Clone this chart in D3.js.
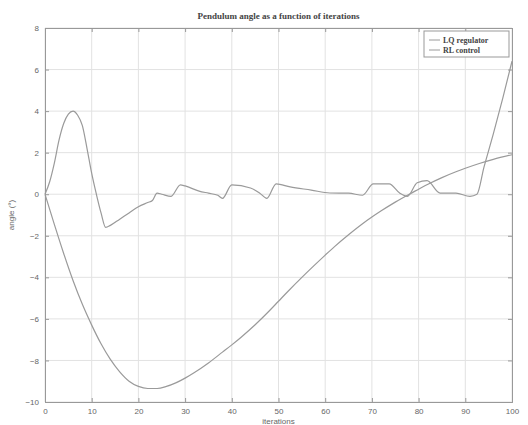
<!DOCTYPE html>
<html><head><meta charset="utf-8">
<script src="https://cdn.jsdelivr.net/npm/d3@7/dist/d3.min.js"></script>
<style>body{margin:0;background:#fff}svg{display:block}</style>
</head><body>
<script>
const title = "Pendulum angle as a function of iterations";
const xLabel = "iterations";
const yLabel = "angle (°)";
const seriesNames = ["LQ regulator", "RL control"];
const xTicks = [0,10,20,30,40,50,60,70,80,90,100];
const yTicks = [-10,-8,-6,-4,-2,0,2,4,6,8];

const lqX = [0,2,4,6,8,10,12,14,16,18,20,22,24,26,28,30,32,35,38,40,42,45,48,50,52,55,58,60,62,65,68,70,72,75,78,80,82,85,88,90,93,96,100];
const lqY = [0,-1.45,-2.85,-4.15,-5.3,-6.3,-7.2,-7.95,-8.55,-9.0,-9.25,-9.35,-9.35,-9.25,-9.08,-8.85,-8.58,-8.12,-7.6,-7.25,-6.88,-6.28,-5.62,-5.15,-4.68,-4.0,-3.35,-2.93,-2.52,-1.95,-1.42,-1.1,-0.8,-0.38,0.0,0.24,0.48,0.8,1.08,1.25,1.48,1.68,1.9];

const rlX = [0,1,2,3,4,5,6,7,8,9,10,11,12,13,14,16,18,20,22,23,24,25,27,29,30,33,35,37,38,40,44,46,47.5,49.5,52.5,57,61,65,68,70.3,73.7,76,77.6,79.7,81.8,84.6,88,91,92.5,94,96,98,100];
const rlY = [0,0.6,1.5,2.6,3.4,3.85,4.0,3.8,3.3,2.2,1.0,0.0,-0.9,-1.6,-1.5,-1.2,-0.9,-0.6,-0.4,-0.3,0.05,0.0,-0.1,0.45,0.4,0.15,0.05,-0.05,-0.2,0.45,0.3,0.05,-0.2,0.5,0.35,0.2,0.06,0.05,-0.05,0.5,0.5,0.05,-0.1,0.55,0.65,0.05,0.05,-0.1,0,1.3,2.9,4.6,6.4];

const W = 528, H = 425;
const m = {l:45, r:16, t:28, b:23};
const svg = d3.select("body").append("svg").attr("width", W).attr("height", H);

const x = d3.scaleLinear().domain([0,100]).range([m.l, W - m.r]);
const y = d3.scaleLinear().domain([-10,8]).range([H - m.b, m.t]);

// grid
const g = svg.append("g");
g.selectAll(".vg").data(xTicks).join("line")
  .attr("x1", d=>x(d)).attr("x2", d=>x(d)).attr("y1", y(8)).attr("y2", y(-10))
  .attr("stroke", "#e2e2e2").attr("stroke-width", 1);
g.selectAll(".hg").data(yTicks).join("line")
  .attr("y1", d=>y(d)).attr("y2", d=>y(d)).attr("x1", x(0)).attr("x2", x(100))
  .attr("stroke", "#e2e2e2").attr("stroke-width", 1);

// axes
const tickFont = g2 => g2.selectAll("text").attr("font-family","Liberation Sans, Arial, sans-serif").attr("font-size", 8).attr("fill", "#666");
const xa = svg.append("g").attr("transform", `translate(0,${y(-10)})`)
  .call(d3.axisBottom(x).tickValues(xTicks).tickSize(-4).tickPadding(6));
const ya = svg.append("g").attr("transform", `translate(${x(0)},0)`)
  .call(d3.axisLeft(y).tickValues(yTicks).tickSize(-4).tickPadding(6).tickFormat(d3.format("d")));
const xt = svg.append("g").attr("transform", `translate(0,${y(8)})`)
  .call(d3.axisTop(x).tickValues(xTicks).tickSize(-4).tickFormat(""));
const yr = svg.append("g").attr("transform", `translate(${x(100)},0)`)
  .call(d3.axisRight(y).tickValues(yTicks).tickSize(-4).tickFormat(""));
[xa, ya, xt, yr].forEach(a => {
  a.select(".domain").attr("stroke", "#999");
  a.selectAll(".tick line").attr("stroke", "#999");
  tickFont(a);
});

// lines
const lqData = lqX.map((v,i)=>[v, lqY[i]]);
const rlData = rlX.map((v,i)=>[v, rlY[i]]);
const lineColors = ["#9a9a9a", "#9a9a9a"];
svg.append("path").datum(lqData).attr("d", d3.line().x(d=>x(d[0])).y(d=>y(d[1])).curve(d3.curveMonotoneX))
  .attr("fill","none").attr("stroke", lineColors[0]).attr("stroke-width", 1.2);
svg.append("path").datum(rlData).attr("d", d3.line().x(d=>x(d[0])).y(d=>y(d[1])).curve(d3.curveMonotoneX))
  .attr("fill","none").attr("stroke", lineColors[1]).attr("stroke-width", 1.2);

// title & labels
svg.append("text").attr("x", (x(0)+x(100))/2).attr("y", 19).attr("text-anchor","middle")
  .attr("font-family","Liberation Serif, Times New Roman, serif").attr("font-weight","bold")
  .attr("font-size", 9).attr("fill","#444").text(title);
svg.append("text").attr("x", (x(0)+x(100))/2).attr("y", H - 1).attr("text-anchor","middle")
  .attr("font-family","Liberation Sans, Arial, sans-serif").attr("font-size", 8).attr("fill","#666").text(xLabel);
svg.append("text").attr("transform", `translate(14,${(y(8)+y(-10))/2}) rotate(-90)`).attr("text-anchor","middle")
  .attr("font-family","Liberation Sans, Arial, sans-serif").attr("font-size", 8).attr("fill","#666").text(yLabel);

// legend
const lg = svg.append("g");
lg.append("rect").attr("x", 424).attr("y", 31).attr("width", 85).attr("height", 26)
  .attr("fill","#fff").attr("stroke","#999").attr("stroke-width",1);
seriesNames.forEach((n,i) => {
  const yy = 40 + i*10;
  lg.append("line").attr("x1", 429).attr("x2", 440).attr("y1", yy).attr("y2", yy)
    .attr("stroke", lineColors[i]).attr("stroke-width", 1);
  lg.append("text").attr("x", 443).attr("y", yy + 3)
    .attr("font-family","Liberation Serif, Times New Roman, serif").attr("font-weight","bold")
    .attr("font-size", 8).attr("fill","#444").text(n);
});
</script>
</body></html>
